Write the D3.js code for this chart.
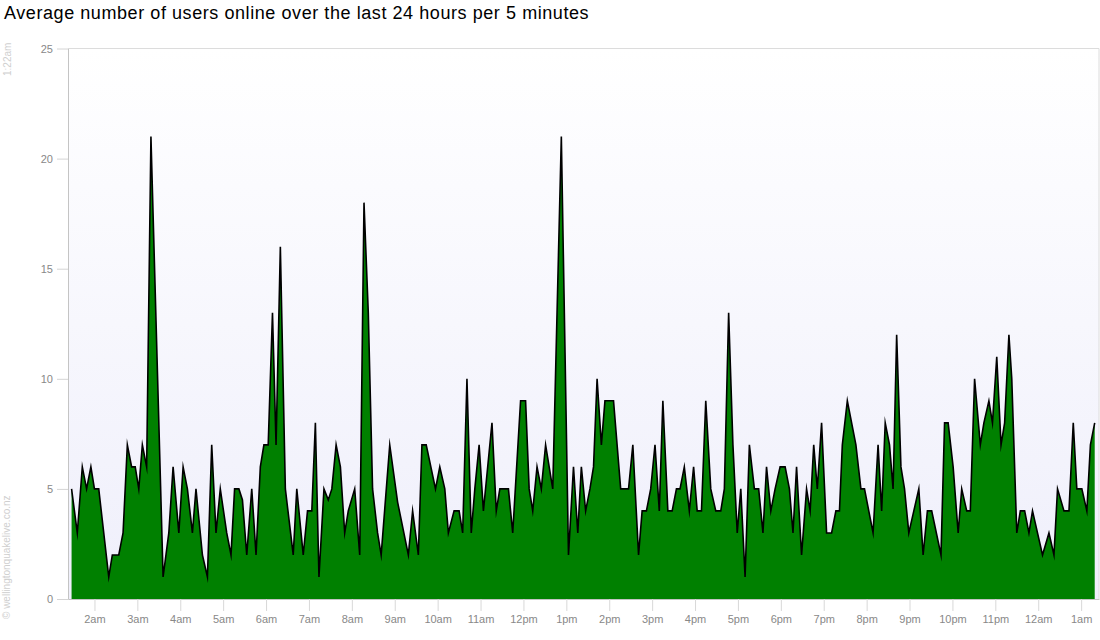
<!DOCTYPE html>
<html>
<head>
<meta charset="utf-8">
<script src="https://cdn.jsdelivr.net/npm/d3@7"></script>
<style>
  body { margin: 0; background: #fff; }
  svg { display: block; font-family: "Liberation Sans", Arial, sans-serif; }
</style>
</head>
<body>
<svg id="chart" width="1100" height="640"></svg>
<script>
// ---- data ----
const chartTitle = "Average number of users online over the last 24 hours per 5 minutes";
const generatedAt = "1:22am";
const creditText = "\u00A9 wellingtonquakelive.co.nz";
const yTickValues = [0, 5, 10, 15, 20, 25];
// minutes after 1:23am at which each sample is plotted
const minutesAfterStart = [
  5, 13, 20, 26, 32, 37, 43, 57, 62, 71, 77, 83, 89, 94, 99, 104, 110, 116, 133, 141,
  147, 155, 161, 167, 174, 179, 188, 195, 201, 207, 213, 222, 228, 233, 239, 244, 250, 257, 263, 269,
  274, 280, 286, 291, 297, 304, 315, 320, 329, 335, 341, 346, 351, 358, 364, 369, 375, 381, 387, 392,
  401, 408, 414, 420, 426, 433, 438, 450, 461, 476, 482, 490, 495, 501, 514, 520, 527, 532, 540, 547,
  552, 558, 564, 569, 575, 581, 593, 599, 604, 616, 622, 633, 640, 645, 650, 656, 662, 668, 678, 690,
  700, 707, 713, 718, 724, 730, 735, 740, 746, 751, 763, 773, 784, 790, 798, 803, 809, 815, 821, 827,
  832, 839, 845, 851, 856, 862, 869, 875, 880, 886, 892, 899, 906, 913, 918, 924, 930, 936, 941, 947,
  953, 960, 966, 972, 977, 983, 989, 996, 1003, 1009, 1014, 1019, 1026, 1033, 1038, 1043, 1048, 1054, 1061, 1068,
  1074, 1079, 1083, 1090, 1102, 1109, 1114, 1126, 1133, 1138, 1143, 1149, 1154, 1159, 1165, 1170, 1176, 1183, 1190, 1196,
  1202, 1208, 1221, 1226, 1231, 1238, 1245, 1250, 1257, 1262, 1268, 1276, 1281, 1288, 1293, 1299, 1305, 1310, 1316, 1320,
  1327, 1332, 1338, 1344, 1349, 1363, 1372, 1379, 1384, 1393, 1400, 1406, 1411, 1418, 1425, 1430, 1436
];
// average users online for each sample
const usersOnline = [
  5, 3, 6, 5, 6, 5, 5, 1, 2, 2, 3, 7, 6, 6, 5, 7, 6, 21, 1, 3,
  6, 3, 6, 5, 3, 5, 2, 1, 7, 3, 5, 3, 2, 5, 5, 4.5, 2, 5, 2, 6,
  7, 7, 13, 7, 16, 5, 2, 5, 2, 4, 4, 8, 1, 5, 4.5, 5, 7, 6, 3, 4,
  5, 2, 18, 13, 5, 3, 2, 7, 4.4, 2, 4, 2, 7, 7, 5, 6, 5, 3, 4, 4,
  3, 10, 3, 5, 7, 4, 8, 4, 5, 5, 3, 9, 9, 5, 4, 6, 5, 7, 5, 21,
  2, 6, 3, 6, 4, 5, 6, 10, 7, 9, 9, 5, 5, 7, 2, 4, 4, 5, 7, 4,
  9, 4, 4, 5, 5, 6, 4, 6, 4, 4, 9, 5, 4, 4, 5, 13, 7, 3, 5, 1,
  7, 5, 5, 3, 6, 4, 5, 6, 6, 5, 3, 6, 2, 5, 4, 7, 5, 8, 3, 3,
  4, 4, 7, 9, 7, 5, 5, 3, 7, 4, 8, 7, 5, 12, 6, 5, 3, 4, 5, 2,
  4, 4, 2, 8, 8, 6, 3, 5, 4, 4, 10, 7, 8, 9, 8, 11, 7, 8, 12, 10,
  3, 4, 4, 3, 4, 2, 3, 2, 5, 4, 4, 8, 5, 5, 4, 7, 8
];

// ---- drawing ----
const svg = d3.select("#chart");
const plotLeft = 68, plotRight = 1099, plotTop = 48.5, plotBottom = 599;

const start = new Date(2012, 4, 1, 1, 23);
const end = d3.timeMinute.offset(start, 1442);
const x = d3.scaleTime().domain([start, end]).range([plotLeft, plotRight]);
const y = d3.scaleLinear().domain([0, 25]).range([plotBottom, plotTop]);

const data = minutesAfterStart.map((m, i) => ({ t: d3.timeMinute.offset(start, m), v: usersOnline[i] }));

// background gradient
const defs = svg.append("defs");
const grad = defs.append("linearGradient").attr("id", "bg")
  .attr("x1", 0).attr("y1", 0).attr("x2", 0).attr("y2", 1);
grad.append("stop").attr("offset", "0%").attr("stop-color", "#ffffff");
grad.append("stop").attr("offset", "100%").attr("stop-color", "#efeffb");

svg.append("rect")
  .attr("x", plotLeft).attr("y", plotTop)
  .attr("width", plotRight - plotLeft).attr("height", plotBottom - plotTop)
  .attr("fill", "url(#bg)");

// area
const area = d3.area().x(d => x(d.t)).y0(y(0)).y1(d => y(d.v));
const line = d3.line().x(d => x(d.t)).y(d => y(d.v));

svg.append("path").datum(data).attr("d", area).attr("fill", "#008000");
svg.append("path").datum(data).attr("d", line)
  .attr("fill", "none").attr("stroke", "#000").attr("stroke-width", 1.6)
  .attr("stroke-linejoin", "miter").attr("stroke-miterlimit", 10);

// borders
svg.append("line").attr("x1", plotLeft).attr("x2", plotRight).attr("y1", plotTop).attr("y2", plotTop)
  .attr("stroke", "#dcdcdc").attr("stroke-width", 1);
svg.append("line").attr("x1", plotRight).attr("x2", plotRight).attr("y1", plotTop).attr("y2", plotBottom)
  .attr("stroke", "#dcdcdc").attr("stroke-width", 1);

// y axis
const yAxis = d3.axisLeft(y).tickValues(yTickValues).tickSize(11).tickSizeOuter(0).tickPadding(4);
const gy = svg.append("g").attr("transform", `translate(${plotLeft},0)`).call(yAxis);
gy.select(".domain").attr("stroke", "#c4c4c4");
gy.selectAll(".tick line").attr("stroke", "#d4d4d4");
gy.selectAll(".tick text").attr("fill", "#888").attr("font-size", 11)
  .attr("font-family", "'Liberation Sans', Arial, sans-serif");

// x axis
const fmt = d3.timeFormat("%-I%p");
const xAxis = d3.axisBottom(x).ticks(d3.timeHour.every(1))
  .tickFormat(d => fmt(d).toLowerCase()).tickSize(12).tickSizeOuter(0).tickPadding(4);
const gx = svg.append("g").attr("transform", `translate(0,${plotBottom})`).call(xAxis);
gx.select(".domain").attr("stroke", "#c4c4c4");
gx.selectAll(".tick line").attr("stroke", "#d8d8d8");
gx.selectAll(".tick text").attr("fill", "#888").attr("font-size", 11)
  .attr("font-family", "'Liberation Sans', Arial, sans-serif");

// title
svg.append("text").attr("x", 4).attr("y", 19)
  .attr("font-size", 18).attr("letter-spacing", 0.57).attr("fill", "#000").text(chartTitle);

// side labels
svg.append("text").attr("transform", "translate(11,76) rotate(-90)")
  .attr("font-size", 10).attr("fill", "#cfcfcf").text(generatedAt);
svg.append("text").attr("transform", "translate(10,619) rotate(-90)")
  .attr("font-size", 10).attr("fill", "#cfcfcf").text(creditText);
</script>
</body>
</html>
